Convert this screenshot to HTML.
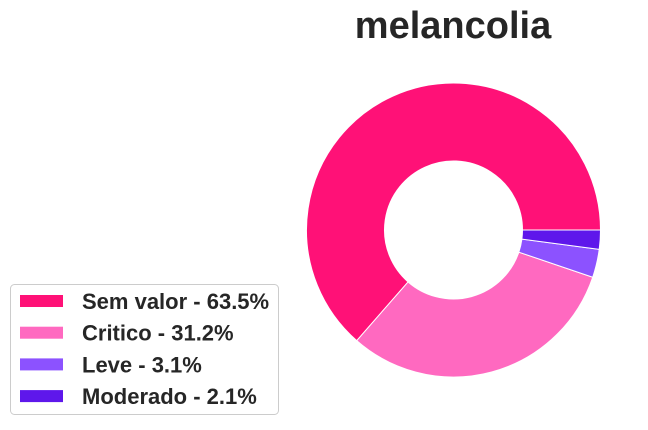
<!DOCTYPE html>
<html><head><meta charset="utf-8"><style>
body{margin:0;background:#fff;width:648px;height:425px;overflow:hidden;font-family:"Liberation Sans",sans-serif}
</style></head><body>
<svg width="648" height="425">
<text x="453" y="38" text-anchor="middle" font-size="38" font-weight="bold" fill="#262626">melancolia</text>
<g id="slices"></g>
<g>
<rect x="10.5" y="284.5" width="268" height="130" rx="4" fill="#fff" stroke="#ccc"/>
<g id="legend"></g>
</g>
</svg>
<script>
const labels=["Sem valor","Critico","Leve","Moderado"];
const values=[63.5,31.2,3.1,2.1];
const colors=["#FF1177","#FF69C0","#8C52FF","#5E17EB"];
const cx=453.5,cy=230,R=147,r=69;
const ns="http://www.w3.org/2000/svg";
const total=values.reduce((a,b)=>a+b,0);
let a0=0;
const g=document.getElementById('slices');
function pt(rad,ang){return [cx+rad*Math.cos(ang),cy-rad*Math.sin(ang)];}
values.forEach((v,i)=>{
  const a1=a0+v/total*2*Math.PI;
  const large=(a1-a0)>Math.PI?1:0;
  const [x0,y0]=pt(R,a0),[x1,y1]=pt(R,a1),[x2,y2]=pt(r,a1),[x3,y3]=pt(r,a0);
  const p=document.createElementNS(ns,'path');
  p.setAttribute('d',`M${x0},${y0} A${R},${R} 0 ${large} 0 ${x1},${y1} L${x2},${y2} A${r},${r} 0 ${large} 1 ${x3},${y3} Z`);
  p.setAttribute('fill',colors[i]);p.setAttribute('stroke','#fff');p.setAttribute('stroke-width','1');
  
  
  g.appendChild(p);
  a0=a1;
});
const lg=document.getElementById('legend');
values.forEach((v,i)=>{
  const y=301+i*31.7;
  const rc=document.createElementNS(ns,'rect');
  rc.setAttribute('x',20);rc.setAttribute('y',y-6);rc.setAttribute('width',43);rc.setAttribute('height',12);
  rc.setAttribute('fill',colors[i]);
  
  
  lg.appendChild(rc);
  const t=document.createElementNS(ns,'text');
  t.setAttribute('x',82);t.setAttribute('y',y+8);t.setAttribute('font-size','22');t.setAttribute('font-weight','bold');t.setAttribute('fill','#262626');
  t.textContent=labels[i]+' - '+v.toFixed(1)+'%';
  
  
  lg.appendChild(t);
});
</script>
</body></html>
